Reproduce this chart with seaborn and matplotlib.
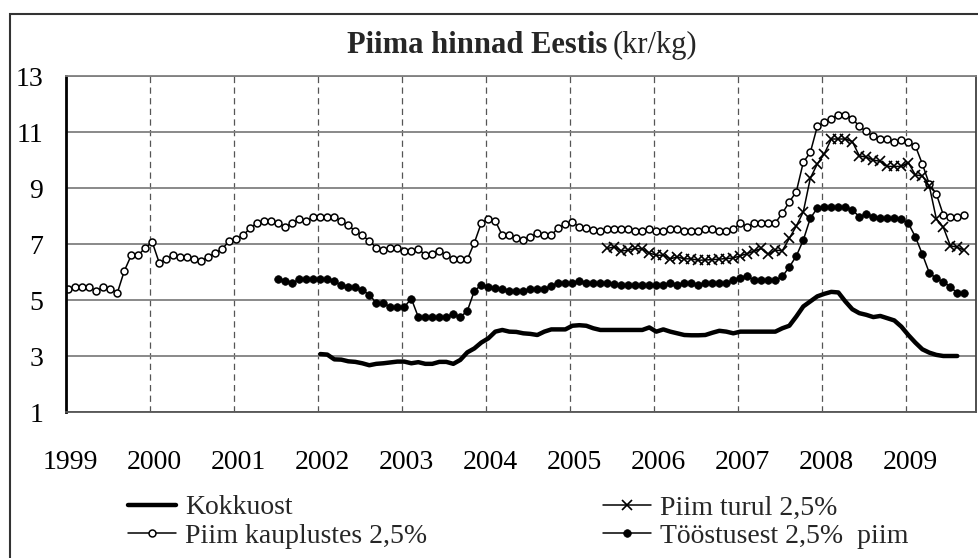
import matplotlib.pyplot as plt
from matplotlib.patches import Rectangle
from matplotlib.transforms import ScaledTranslation
import numpy as np
import pandas as pd
import seaborn as sns

# Monthly milk prices in Estonia, kr/kg. Each series has its own first month.
kokkuost_start = (2002, 1)
kokkuost = [3.07, 3.05, 2.88, 2.87, 2.81, 2.79, 2.74, 2.67, 2.72, 2.74, 2.77, 2.80,
            2.80, 2.74, 2.78, 2.72, 2.72, 2.79, 2.79, 2.72, 2.86, 3.13, 3.27, 3.48,
            3.63, 3.87, 3.93, 3.87, 3.86, 3.81, 3.79, 3.75, 3.87, 3.95, 3.95, 3.95,
            4.08, 4.10, 4.08, 3.99, 3.93, 3.93, 3.93, 3.93, 3.93, 3.93, 3.93, 4.02,
            3.87, 3.95, 3.87, 3.81, 3.75, 3.74, 3.74, 3.75, 3.83, 3.90, 3.87, 3.81,
            3.87, 3.87, 3.87, 3.87, 3.87, 3.87, 3.99, 4.08, 4.41, 4.77, 4.95, 5.13,
            5.22, 5.29, 5.27, 4.95, 4.67, 4.53, 4.47, 4.39, 4.43, 4.35, 4.27, 4.05,
            3.75, 3.48, 3.24, 3.12, 3.04, 3.00, 3.00, 3.00]

kauplustes_start = (1999, 1)
kauplustes = [5.41, 5.46, 5.46, 5.46, 5.32, 5.46, 5.41, 5.25, 6.04, 6.60, 6.60, 6.87,
              7.06, 6.32, 6.46, 6.60, 6.54, 6.54, 6.46, 6.39, 6.54, 6.68, 6.83, 7.11,
              7.18, 7.31, 7.58, 7.75, 7.82, 7.82, 7.75, 7.61, 7.75, 7.89, 7.82, 7.96,
              7.96, 7.96, 7.96, 7.82, 7.67, 7.46, 7.31, 7.11, 6.87, 6.80, 6.87, 6.87,
              6.75, 6.75, 6.83, 6.60, 6.66, 6.75, 6.60, 6.45, 6.45, 6.45, 7.04, 7.75,
              7.89, 7.82, 7.31, 7.31, 7.23, 7.16, 7.25, 7.39, 7.31, 7.31, 7.58, 7.70,
              7.78, 7.61, 7.57, 7.51, 7.47, 7.53, 7.52, 7.52, 7.52, 7.45, 7.45, 7.52,
              7.45, 7.45, 7.52, 7.52, 7.45, 7.45, 7.45, 7.52, 7.52, 7.45, 7.45, 7.52,
              7.75, 7.61, 7.75, 7.75, 7.75, 7.75, 8.10, 8.50, 8.87, 9.92, 10.27, 11.20,
              11.35, 11.48, 11.62, 11.62, 11.48, 11.20, 11.02, 10.84, 10.76, 10.76, 10.63, 10.72,
              10.63, 10.51, 9.86, 9.14, 8.79, 8.04, 7.97, 7.97, 8.04]

turul_start = (2005, 6)
turul = [6.84, 6.90, 6.75, 6.78, 6.84, 6.82, 6.68,
         6.60, 6.60, 6.47, 6.54, 6.47, 6.47, 6.42, 6.43, 6.44, 6.46, 6.48, 6.50,
         6.58, 6.66, 6.75, 6.84, 6.63, 6.78, 6.76, 7.20, 7.64, 8.15, 9.35, 9.86,
         10.22, 10.75, 10.75, 10.75, 10.66, 10.15, 10.10, 10.00, 9.95, 9.77, 9.77, 9.77,
         9.91, 9.47, 9.43, 9.07, 7.90, 7.60, 6.94, 6.88, 6.78]

toostusest_start = (2001, 7)
toostusest = [5.76, 5.68, 5.59, 5.76, 5.76, 5.76,
              5.76, 5.76, 5.68, 5.52, 5.46, 5.46, 5.35, 5.19, 4.89, 4.89, 4.75, 4.75,
              4.75, 5.05, 4.39, 4.39, 4.39, 4.39, 4.39, 4.49, 4.39, 4.61, 5.32, 5.54,
              5.46, 5.42, 5.38, 5.32, 5.32, 5.32, 5.40, 5.40, 5.40, 5.50, 5.62, 5.62,
              5.62, 5.68, 5.62, 5.62, 5.60, 5.59, 5.58, 5.52, 5.52, 5.52, 5.52, 5.52,
              5.52, 5.52, 5.62, 5.52, 5.62, 5.62, 5.52, 5.62, 5.62, 5.62, 5.62, 5.70,
              5.80, 5.85, 5.70, 5.70, 5.70, 5.70, 5.84, 6.18, 6.57, 7.14, 7.92, 8.28,
              8.33, 8.33, 8.33, 8.33, 8.21, 7.98, 8.06, 7.98, 7.92, 7.92, 7.92, 7.90,
              7.74, 7.26, 6.64, 5.97, 5.77, 5.65, 5.47, 5.25, 5.25]

years = list(range(1999, 2010))
y_ticks = [1, 3, 5, 7, 9, 11, 13]


def to_frame(start, values):
    year, month = start
    months = np.arange(len(values)) + (month - 1)
    # points sit a bit right of the month start, as in the original
    return pd.DataFrame({'aeg': year + (months + 0.33) / 12, 'hind': values})


sns.set_style('white')
plt.rcParams['font.family'] = ['Liberation Serif', 'DejaVu Serif']

W, H = 979, 558
fig = plt.figure(figsize=(W / 100, H / 100), dpi=100)
ax = fig.add_axes([66 / W, 1 - 412 / H, 910 / W, 336 / H])

sns.lineplot(data=to_frame(kokkuost_start, kokkuost), x='aeg', y='hind', ax=ax,
             color='black', lw=3.2, label='Kokkuost')
sns.lineplot(data=to_frame(kauplustes_start, kauplustes), x='aeg', y='hind', ax=ax,
             color='black', lw=1.1, marker='o', markersize=5,
             markerfacecolor='white', markeredgecolor='black', markeredgewidth=1.1,
             label='Piim kauplustes 2,5%')
sns.lineplot(data=to_frame(turul_start, turul), x='aeg', y='hind', ax=ax,
             color='black', lw=1.1, marker='x', markersize=7,
             markeredgecolor='black', markeredgewidth=1.2,
             label='Piim turul 2,5%')
sns.lineplot(data=to_frame(toostusest_start, toostusest), x='aeg', y='hind', ax=ax,
             color='black', lw=1.1, marker='o', markersize=5.5,
             markerfacecolor='black', markeredgecolor='black', markeredgewidth=0.5,
             label='Tööstusest 2,5%  piim')

ax.set_xlim(1999, 1999 + 910 / 84)
ax.set_ylim(1, 13)
ax.set_xticks(years)
ax.set_yticks(y_ticks)
ax.set_xlabel('')
ax.set_ylabel('')
ax.set_axisbelow(True)

ax.yaxis.grid(True, color='#808080', lw=1.3, ls='-')
ax.xaxis.grid(True, color='#555555', lw=0.9, ls=(0, (5, 3.5)))

ax.tick_params(axis='both', labelsize=20, direction='out', length=7.2, width=1,
               color='#555555', labelcolor='black')
ax.tick_params(axis='x', pad=20)
ax.tick_params(axis='y', pad=9)

# year labels sit a few pixels right of their ticks in the original
shift = ScaledTranslation(4 / 100, 0, fig.dpi_scale_trans)
for lab in ax.get_xticklabels():
    lab.set_transform(lab.get_transform() + shift)

ax.spines['left'].set_color('black')
ax.spines['left'].set_linewidth(2)
ax.spines['top'].set_color('#808080')
ax.spines['top'].set_linewidth(1.3)
ax.spines['right'].set_color('#404040')
ax.spines['right'].set_linewidth(1.3)
ax.spines['bottom'].set_color('#555555')
ax.spines['bottom'].set_linewidth(1.3)

# title: bold name, plain unit
fig.text(347 / W, 1 - 53 / H, 'Piima hinnad Eestis', fontsize=22, fontweight='bold',
         va='baseline', ha='left')
fig.text(613 / W, 1 - 53 / H, '(kr/kg)', fontsize=22, va='baseline', ha='left')

handles, labels = ax.get_legend_handles_labels()
if ax.get_legend() is not None:
    ax.get_legend().remove()
fig.legend(handles, labels, ncol=2, loc='upper left',
           bbox_to_anchor=(128 / W, 1 - 495 / H), frameon=False, fontsize=20,
           borderpad=0, borderaxespad=0, handlelength=1.73, handletextpad=0.32,
           columnspacing=6.33, labelspacing=0.1)

# outer chart frame (only left and top edges fall inside the picture)
fig.patches.append(Rectangle((10 / W, -0.2), 2, 1.2 - 14 / H, transform=fig.transFigure,
                             fill=False, ec='#333333', lw=1.5))

fig.savefig('out.png', dpi=100)
